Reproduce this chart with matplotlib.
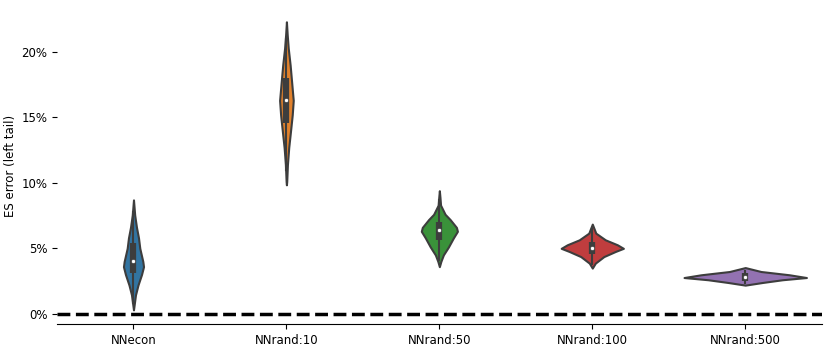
import numpy as np
import matplotlib
matplotlib.use("Agg")
import matplotlib.pyplot as plt
from matplotlib.ticker import PercentFormatter

categories = ["NNecon", "NNrand:10", "NNrand:50", "NNrand:100", "NNrand:500"]
colors = ["#3274a1", "#e1812c", "#3a923a", "#c03d3e", "#9372b2"]
gray = "#3d3d3d"

# Violin density profiles: error levels (%) and relative density
econ_y = [8.7, 7.55, 6.6, 5.8, 5.0, 4.0, 3.6, 3.0, 2.2, 1.45, 0.7, 0.3]
econ_d = [0.0, 1.2, 3.0, 5.0, 6.3, 9.3, 10.0, 8.0, 4.5, 2.0, 0.7, 0.0]
r10_y = [22.3, 21.3, 20.3, 19.0, 17.7, 16.3, 15.2, 13.9, 12.7, 11.4, 10.1, 9.85]
r10_d = [0.0, 0.8, 1.8, 3.7, 5.2, 6.8, 5.8, 4.0, 2.3, 1.0, 0.3, 0.0]
r50_y = [9.4, 8.9, 8.3, 7.6, 7.2, 6.6, 6.3, 5.8, 5.1, 4.5, 4.0, 3.6]
r50_d = [0.0, 0.6, 1.2, 5.7, 10.7, 17.0, 18.0, 14.0, 9.0, 4.0, 1.5, 0.0]
r100_y = [6.85, 6.16, 5.65, 5.27, 5.0, 4.76, 4.37, 3.87, 3.49]
r100_d = [0.0, 3.5, 13.0, 25.0, 31.0, 23.0, 11.5, 3.0, 0.0]
r500_y = [3.53, 3.23, 2.98, 2.77, 2.6, 2.39, 2.19]
r500_d = [0.0, 15.7, 44.0, 61.0, 37.0, 17.0, 0.0]

profiles_y = [econ_y, r10_y, r50_y, r100_y, r500_y]
profiles_d = [econ_d, r10_d, r50_d, r100_d, r500_d]

# Box statistics (%)
q1 = [3.13, 14.6, 5.6, 4.58, 2.48]
median = [4.05, 16.3, 6.41, 5.0, 2.84]
q3 = [5.42, 18.0, 7.0, 5.52, 3.1]
whisk_lo = [0.8, 11.0, 4.1, 3.8, 2.35]
whisk_hi = [7.8, 21.0, 8.7, 6.5, 3.28]

fig = plt.figure(figsize=(8.3, 3.52), dpi=100)
ax = fig.add_axes([0.0687, 0.0795, 0.9213, 0.8995])

dmax = max(max(d) for d in profiles_d)
scale = 0.4 / dmax
lw = 1.5
for i, (ys, ds) in enumerate(zip(profiles_y, profiles_d)):
    ys = np.asarray(ys)
    ds = np.asarray(ds) * scale
    ax.fill_betweenx(ys, i - ds, i + ds, facecolor=colors[i], edgecolor=gray,
                     linewidth=lw, zorder=1)
    ax.plot([i, i], [whisk_lo[i], whisk_hi[i]], color=gray, linewidth=lw, zorder=2)
    ax.plot([i, i], [q1[i], q3[i]], color=gray, linewidth=lw * 3, zorder=2,
            solid_capstyle="butt")
    ax.scatter([i], [median[i]], s=(lw * 2) ** 2, color="white", edgecolor=gray,
               zorder=3, linewidth=0.5)

ax.axhline(0, color="black", linestyle="--", linewidth=2.5, zorder=4)

ax.set_xlim(-0.5, 4.5)
ax.set_ylim(-0.78, 23.4)
ax.set_xticks(range(len(categories)))
ax.set_xticklabels(categories)
ax.set_yticks([0, 5, 10, 15, 20])
ax.yaxis.set_major_formatter(PercentFormatter(100, decimals=0))
ax.tick_params(labelsize=8.5)
ax.set_ylabel("ES error (left tail)", fontsize=8.5, labelpad=3)
for s in ["top", "right", "left"]:
    ax.spines[s].set_visible(False)

fig.savefig("out.png", dpi=100)
